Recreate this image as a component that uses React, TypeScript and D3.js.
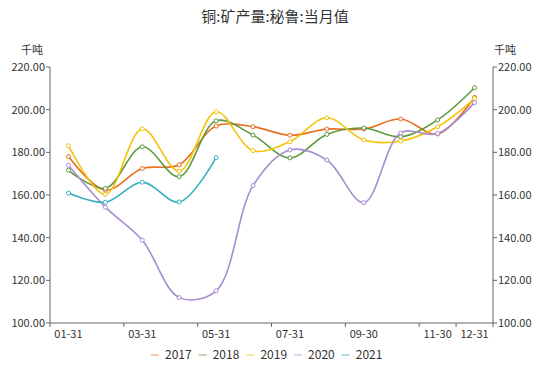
import React from "react";
import * as d3 from "d3";

const categories = ["01-31","02-28","03-31","04-30","05-31","06-30","07-31","08-31","09-30","10-31","11-30","12-31"];
const tickLabels = ["01-31","03-31","05-31","07-31","09-30","11-30","12-31"];
const yTicks = [100, 120, 140, 160, 180, 200, 220];

const s2017 = [178.0, 162.3, 172.4, 174.2, 192.3, 192.0, 188.0, 190.9, 190.9, 195.6, 188.6, 205.8];
const s2018 = [171.6, 163.1, 182.6, 168.6, 194.8, 188.1, 177.4, 188.4, 191.4, 187.3, 195.2, 210.3];
const s2019 = [183.1, 160.3, 191.0, 171.2, 199.0, 180.8, 185.0, 196.2, 185.8, 185.3, 192.0, 205.2];
const s2020 = [173.9, 154.3, 138.8, 111.9, 115.1, 164.4, 181.1, 176.4, 156.4, 189.1, 188.8, 203.3];
const s2021 = [160.9, 156.6, 166.0, 156.7, 177.5];

const seriesNames = ["2017", "2018", "2019", "2020", "2021"];
const seriesData = [s2017, s2018, s2019, s2020, s2021];
const colors = ["#e8701e", "#5e9a3c", "#f3c30a", "#a78bd3", "#36afc0"];

const W = 550, H = 368;
const left = 50, right = 493, top = 67, bottom = 323;
const font = "'Noto Sans CJK SC', 'Open Sans', sans-serif";

export default function App() {
  const x = d3.scaleBand<string>().domain(categories).range([left, right]).padding(0);
  const y = d3.scaleLinear().domain([100, 220]).range([bottom, top]);
  const cx = (c: string) => (x(c) as number) + x.bandwidth() / 2;
  const line = d3.line<number>()
    .x((_, i) => cx(categories[i]))
    .y((d) => y(d))
    .curve(d3.curveCatmullRom.alpha(0.5));

  const tickPos = tickLabels.map((t) => x(t) as number).concat([right]);

  const legendX0 = 151;
  const legendStep = 47.7;

  return (
    <div style={{ position: "absolute", left: 0, top: 0 }}>
      <svg width={W} height={H} style={{ display: "block", background: "#fff" }} fontFamily={font}>
        <text x={275} y={22} textAnchor="middle" fontSize={15} fill="#333">铜:矿产量:秘鲁:当月值</text>
        <text x={32} y={54} textAnchor="middle" fontSize={11} fill="#333">千吨</text>
        <text x={505} y={54} textAnchor="middle" fontSize={11} fill="#333">千吨</text>

        {/* axes */}
        <line x1={left} x2={left} y1={top} y2={bottom} stroke="#666" strokeWidth={1} />
        <line x1={right} x2={right} y1={top} y2={bottom} stroke="#666" strokeWidth={1} />
        <line x1={left} x2={right} y1={bottom} y2={bottom} stroke="#666" strokeWidth={1} />
        {yTicks.map((t) => (
          <g key={t}>
            <line x1={left - 4} x2={left} y1={y(t)} y2={y(t)} stroke="#666" />
            <line x1={right} x2={right + 4} y1={y(t)} y2={y(t)} stroke="#666" />
            <text x={left - 5} y={y(t)} dy="0.35em" textAnchor="end" fontSize={11} fill="#333">{t.toFixed(2)}</text>
            <text x={right + 5} y={y(t)} dy="0.35em" textAnchor="start" fontSize={11} fill="#333">{t.toFixed(2)}</text>
          </g>
        ))}
        {tickPos.map((p, i) => (
          <line key={i} x1={p} x2={p} y1={bottom} y2={bottom + 4} stroke="#666" />
        ))}
        {tickLabels.map((t) => (
          <text key={t} x={cx(t)} y={bottom + 15} textAnchor="middle" fontSize={11} fill="#333">{t}</text>
        ))}

        {/* series */}
        {seriesData.map((data, si) => (
          <g key={seriesNames[si]}>
            <path d={line(data) || ""} fill="none" stroke={colors[si]} strokeWidth={1.6} />
            {data.map((v, i) => (
              <circle key={i} cx={cx(categories[i])} cy={y(v)} r={2} fill="#fff" stroke={colors[si]} strokeWidth={1} />
            ))}
          </g>
        ))}

        {/* legend */}
        {seriesNames.map((n, i) => (
          <g key={n} transform={`translate(${legendX0 + i * legendStep},355)`}>
            <line x1={0} x2={8} y1={0} y2={0} stroke={colors[i]} strokeOpacity={0.5} strokeWidth={1.5} />
            <text x={14} y={0} dy="0.35em" fontSize={12} fill="#333">{n}</text>
          </g>
        ))}
      </svg>
    </div>
  );
}
